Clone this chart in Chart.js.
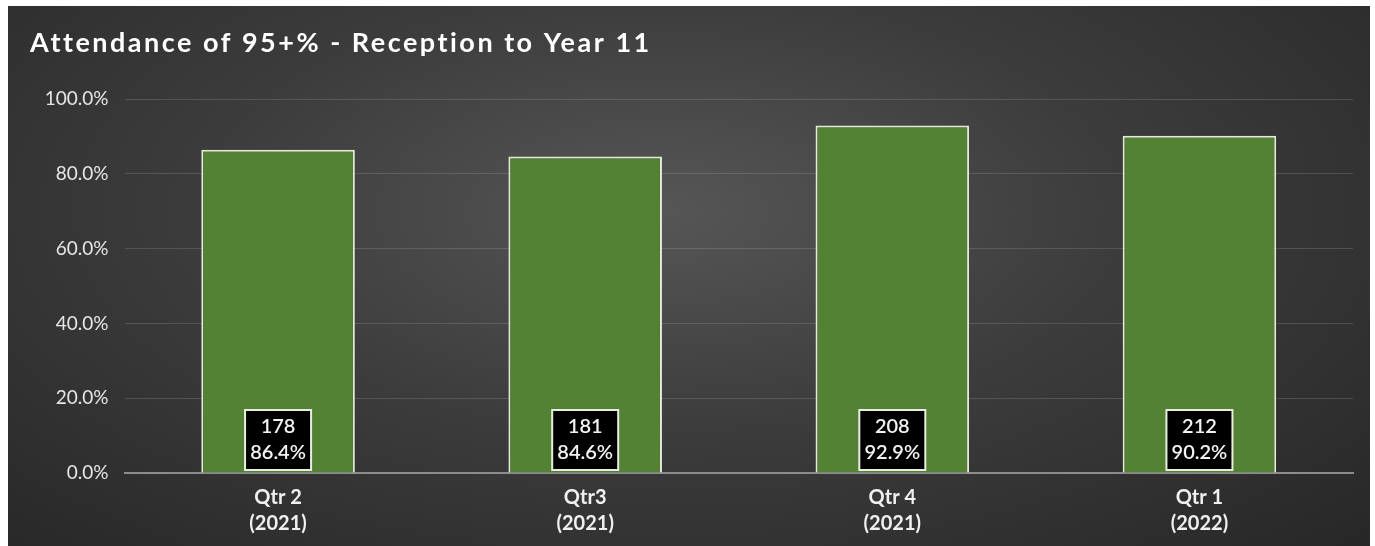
<!DOCTYPE html>
<html>
<head>
<meta charset="utf-8">
<title>Attendance of 95+%</title>
<script src="https://cdn.jsdelivr.net/npm/chart.js@4/dist/chart.umd.min.js"></script>
<style>
  html, body { margin: 0; padding: 0; background: #fff; }
  #wrap {
    position: absolute; left: 8px; top: 6px; width: 1362px; height: 540px;
    background: radial-gradient(ellipse 75% 90% at 48% 38%, #565656 0%, #3c3c3c 45%, #262626 100%);
  }
</style>
</head>
<body>
<div id="wrap"><canvas id="attendanceChart"></canvas></div>
<script>
// quarters on the x axis (two-line labels)
const quarters = [['Qtr 2', '(2021)'], ['Qtr3', '(2021)'], ['Qtr 4', '(2021)'], ['Qtr 1', '(2022)']];
// share of pupils with 95%+ attendance
const attendancePct = [86.4, 84.6, 92.9, 90.2];
// number of pupils behind each percentage
const pupilCounts = [178, 181, 208, 212];
const yTicks = [0, 20, 40, 60, 80, 100];

const FONT = 'Lato, "Open Sans", sans-serif';

// title drawn by hand so it can be letter-spaced
const titlePlugin = {
    id: 'spacedTitle',
    afterDraw(chart) {
        const ctx = chart.ctx;
        ctx.save();
        ctx.font = 'bold 27px ' + FONT;
        ctx.letterSpacing = '2.5px';
        ctx.fillStyle = '#ffffff';
        ctx.textAlign = 'left';
        ctx.textBaseline = 'middle';
        ctx.fillText('Attendance of 95+% - Reception to Year 11', 22, 37);
        ctx.restore();
    }
};

// black boxes with count and percentage at the foot of each bar
const boxLabels = {
    id: 'boxLabels',
    afterDatasetsDraw(chart) {
        const ctx = chart.ctx;
        const meta = chart.getDatasetMeta(0);
        const base = chart.scales.y.getPixelForValue(0);
        ctx.save();
        meta.data.forEach((bar, i) => {
            const w = 66, h = 60;
            const x = bar.x - w / 2;
            const y = base - 3 - h;
            ctx.fillStyle = '#000';
            ctx.fillRect(x, y, w, h);
            ctx.strokeStyle = '#e8eedf';
            ctx.lineWidth = 2;
            ctx.strokeRect(x, y, w, h);
            ctx.fillStyle = '#f2f2f2';
            ctx.font = '600 20px ' + FONT;
            ctx.textAlign = 'center';
            ctx.textBaseline = 'middle';
            ctx.fillText(String(pupilCounts[i]), bar.x, y + 17);
            ctx.fillText(attendancePct[i].toFixed(1) + '%', bar.x, y + 43);
        });
        ctx.restore();
    }
};

const ctxAtt = document.getElementById('attendanceChart').getContext('2d');
new Chart(ctxAtt, {
    type: 'bar',
    data: {
        labels: quarters,
        datasets: [{
            data: attendancePct,
            backgroundColor: '#548235',
            borderColor: '#e2ead8',
            borderWidth: 2,
            barPercentage: 0.5,
            categoryPercentage: 1.0
        }]
    },
    options: {
        responsive: true,
        maintainAspectRatio: false,
        animation: false,
        layout: { padding: { left: 22, right: 17, top: 93, bottom: 5 } },
        plugins: {
            legend: { display: false },
            title: { display: false },
            tooltip: { enabled: false }
        },
        scales: {
            y: {
                min: 0,
                max: 100,
                afterBuildTicks(axis) { axis.ticks = yTicks.map(v => ({ value: v })); },
                afterFit(axis) { axis.width = 94.5; },
                ticks: {
                    color: '#e6e6e6',
                    font: { family: FONT, size: 19 },
                    padding: 16,
                    callback: v => v.toFixed(1) + '%'
                },
                grid: {
                    color: ctx => ctx.tick.value === 0 ? 'rgba(0,0,0,0)' : 'rgba(255,255,255,0.14)',
                    lineWidth: 1,
                    drawTicks: false
                },
                border: { display: false }
            },
            x: {
                ticks: {
                    color: '#f0f0f0',
                    font: { family: FONT, size: 20, weight: 'bold', lineHeight: 1.3 },
                    padding: 4
                },
                grid: { display: false },
                border: { display: true, color: '#8c8c8c', width: 2 }
            }
        }
    },
    plugins: [titlePlugin, boxLabels]
});
</script>
</body>
</html>
